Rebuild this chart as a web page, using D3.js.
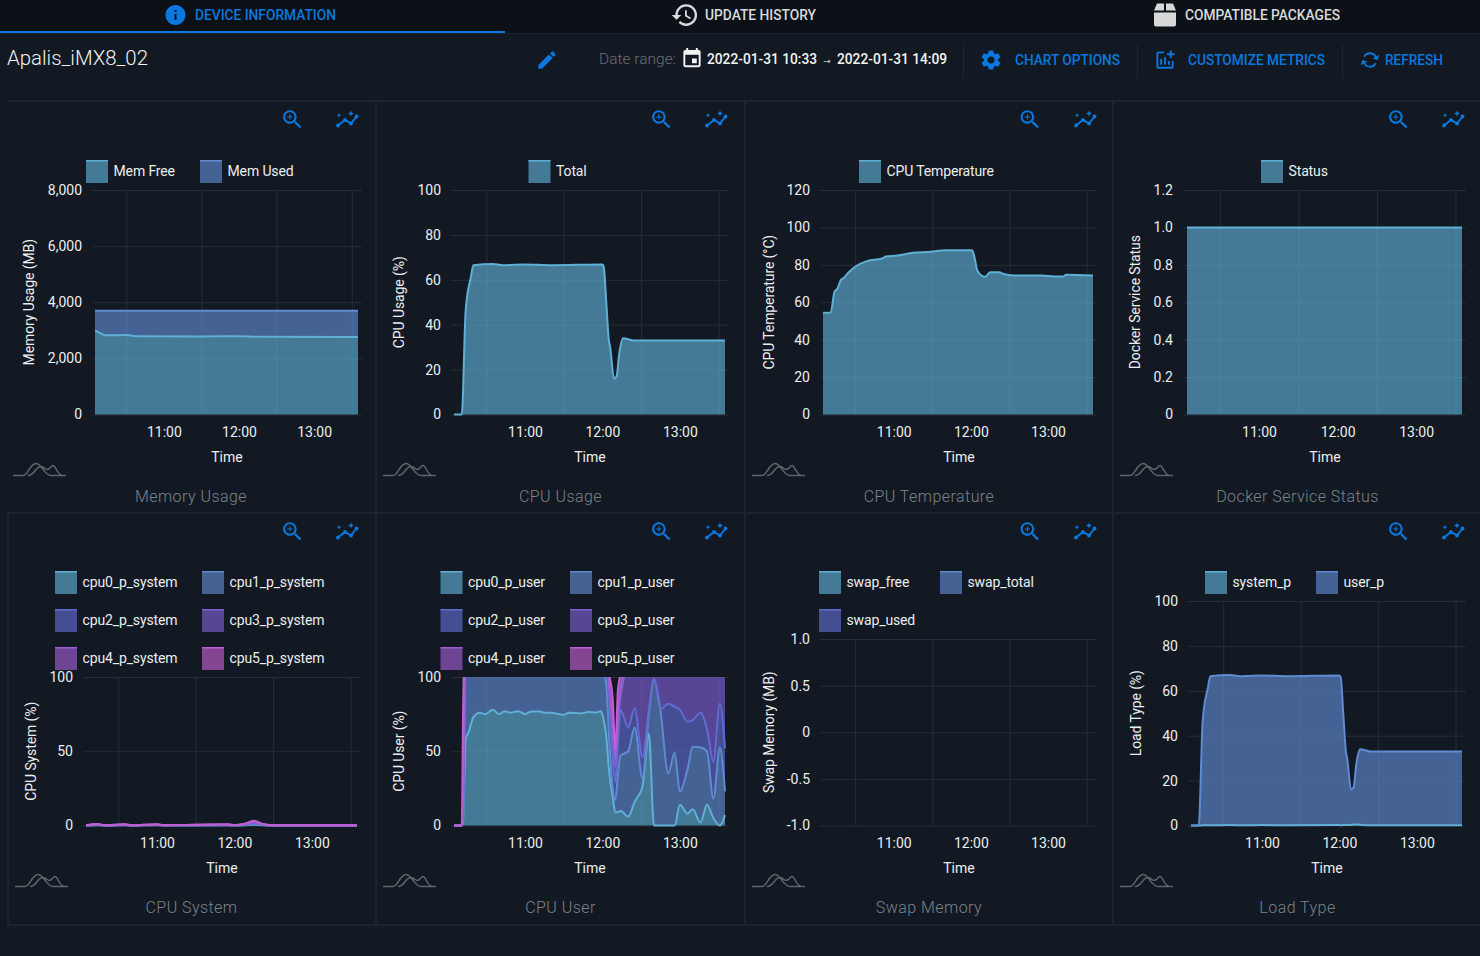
<!DOCTYPE html>
<html>
<head>
<meta charset="utf-8">
<script src="https://cdn.jsdelivr.net/npm/d3@7"></script>
<style>
html,body{margin:0;padding:0;background:#121922;overflow:hidden;}
svg{display:block;font-family:Roboto,sans-serif;}
.grid line{stroke:#262d36;stroke-width:1;}
.grid .domain{display:none;}
.axis .domain,.axis line{display:none;}
.axis text{fill:#eceef0;font-size:14px;font-family:Roboto,sans-serif;}
</style>
</head>
<body>
<script>
// ---- data ----
var hourTicks=["11:00","12:00","13:00"];
var gridTicks=["10:30","11:30","12:30","13:30"];

var memTimes=["10:05","10:08","10:14","10:30","10:40","11:30","12:00","12:15","13:35"];
var memFree=[3000,2930,2820,2830,2790,2780,2790,2770,2760];
var memUsed=[700,770,880,870,910,920,910,930,940];

var cpuTimes=["10:05","10:11","10:14","10:15","10:18","10:20","10:35","10:45","11:00","11:20","12:00","12:01","12:03","12:05","12:06","12:09","12:11","12:13","12:16","12:24","13:35"];
var cpuTotal=[0,0,46,52,61,66.5,67,66.5,66.8,66.5,66.8,66,50,33,30,16,17,27,34,33,33];

var tempTimes=["10:05","10:11","10:14","10:16","10:19","10:21","10:25","10:30","10:39","10:51","10:54","11:03","11:15","11:29","11:40","12:01","12:03","12:05","12:11","12:15","12:22","12:25","12:33","12:55","13:05","13:12","13:14","13:35"];
var tempCpu=[54.4,54.5,65.8,67,72,73,76,79,82,83.4,84.4,85,86.4,87,87.8,87.8,83.5,77,73.6,76,76,75.2,74.3,74.3,73.8,73.8,74.7,74.3];

var statusTimes=["10:05","13:35"];
var statusValues=[1,1];

var sysTimes=["10:05","10:14","10:20","10:35","10:40","11:00","11:05","11:55","12:00","12:08","12:15","12:22","12:30","13:35"];
var sys0=[.03,.2,.03,.15,.03,.15,.05,.1,.05,.2,.6,.2,.03,.02];
var sys1=[.03,.15,.03,.15,.03,.15,.05,.15,.05,.2,.4,.15,.03,.02];
var sys2=[.03,.15,.03,.15,.03,.15,.05,.15,.05,.2,.5,.15,.03,.02];
var sys3=[.03,.15,.03,.15,.03,.15,.05,.15,.05,.2,.5,.2,.03,.02];
var sys4=[.04,.15,.04,.15,.04,.15,.05,.15,.05,.2,.6,.15,.04,.01];
var sys5=[.04,.2,.04,.15,.04,.15,.05,.1,.05,.2,.6,.15,.04,.01];

var userTimes=["10:05","10:11","10:12","10:13","10:14","10:16","10:20","10:25","10:29","10:35","10:40","10:44","10:49","10:55","11:00","11:04","11:10","11:15","11:20","11:30","11:34","11:44","11:49","11:55","11:59","12:01","12:03","12:05","12:08","12:10","12:12","12:14","12:20","12:25","12:31","12:36","12:40","12:45","12:51","12:56","13:00","13:06","13:10","13:16","13:21","13:26","13:31","13:35"];
var user0=[0,0,3,30,58.6,62,73,76,75,78,75,77,76,77,75,76.6,77,76,76,74.5,76,75.5,76.5,76,77,71,60,38,19,9,9,10,6,16,26,62,0,0,0,0,14,8,11,2,14,5,0,7];
var user1=[0,0,3,30,50,50,33,33,33,33,33,33,33,33,33,33,33,33,33,33,33,33,33,33,33,32,35,24,6,8,25,37,44,50,6,13,98,77,35,49,9,30,42,50.6,36,13,52.6,16];
var user2=[0,0,3,10,10,10,10,10,10,10,10,10,10,10,10,10,10,10,10,10,10,10,10,10,10,10,10,28,20,12,21,31,16,13,14,3,1,1,47,31,55,32,18,23.4,15,25,29.4,29];
var user3=[0,0,3,10,10,8,8,8,8,8,8,8,8,8,8,8,8,8,8,8,8,8,8,8,8,8,10,3,15,10,14,8,40,30,60,30,10,30,25,26,30,45,35,32,42,62,25,55];
var user4=[0,0,3,10,10,8,8,8,8,8,8,8,8,8,8,8,8,8,8,8,8,8,8,8,8,8,8,4,10,6,10,6,8,8,8,8,8,8,8,8,8,8,8,8,8,8,8,8];
var user5=[0,0,60,40,10,8,8,8,8,8,8,8,8,8,8,8,8,8,8,8,8,8,8,8,8,8,8,8,15,6,12,10,8,8,8,8,8,8,8,8,8,8,8,8,8,8,8,8];

var loadTimes=["10:05","10:11","10:14","10:15","10:18","10:20","10:35","10:45","11:00","11:20","12:00","12:01","12:03","12:05","12:06","12:09","12:11","12:13","12:16","12:24","13:35"];
var loadSystem=[0,0,.1,.1,.1,.1,.2,.1,.2,.1,.2,.1,.2,.2,.2,.3,.4,.4,.3,.1,.1];
var loadUser=[0,0,46,52,60.9,66.4,66.8,66.4,66.6,66.4,66.6,65.9,49.8,32.8,29.8,15.7,16.6,26.6,33.7,32.9,32.9];

var coloursSeq=["#60afd6","#608bd1","#606cd1","#7e5ed1","#9e5ed1","#c15ed1"];

// ---- panel layout ----
var panels=[
 {title:"Memory Usage",yLabel:"Memory Usage (MB)",x0:95,x1:358,gx0:92,gx1:362,top:190,bot:414.5,lx:29,tx:227,cx:191,ix:13,zx:292.5,ax:347,
  dom:[0,8000],yt:[0,2000,4000,6000,8000],fmt:d3.format(","),times:memTimes,series:[memFree,memUsed],
  names:["Mem Free","Mem Used"],leg:[[86,160],[200,160]]},
 {title:"CPU Usage",yLabel:"CPU Usage (%)",x0:454,x1:725,gx0:451,gx1:729,top:190,bot:414.5,lx:399,tx:590,cx:560.5,ix:383,zx:661.5,ax:716,
  dom:[0,100],yt:[0,20,40,60,80,100],fmt:d3.format("d"),times:cpuTimes,series:[cpuTotal],
  names:["Total"],leg:[[528.5,160]]},
 {title:"CPU Temperature",yLabel:"CPU Temperature (°C)",x0:823,x1:1093,gx0:820,gx1:1097,top:190,bot:414.5,lx:769,tx:959,cx:929,ix:752,zx:1030,ax:1085,
  dom:[0,120],yt:[0,20,40,60,80,100,120],fmt:d3.format("d"),times:tempTimes,series:[tempCpu],
  names:["CPU Temperature"],leg:[[859,160]]},
 {title:"Docker Service Status",yLabel:"Docker Service Status",x0:1187,x1:1462,gx0:1183,gx1:1466,top:190,bot:414.5,lx:1135,tx:1325,cx:1297.5,ix:1120,zx:1398.5,ax:1453,
  dom:[0,1.2],yt:[0,.2,.4,.6,.8,1,1.2],fmt:function(d){return d==0?"0":d.toFixed(1);},times:statusTimes,series:[statusValues],
  names:["Status"],leg:[[1261,160]]},
 {title:"CPU System",yLabel:"CPU System (%)",x0:86,x1:357,gx0:83,gx1:361,top:677,bot:825.5,lx:31,tx:222,cx:191.5,ix:15,zx:292.5,ax:347,
  dom:[0,100],yt:[0,50,100],fmt:d3.format("d"),times:sysTimes,series:[sys0,sys1,sys2,sys3,sys4,sys5],
  names:["cpu0_p_system","cpu1_p_system","cpu2_p_system","cpu3_p_system","cpu4_p_system","cpu5_p_system"],
  leg:[[55,571],[202,571],[55,609],[202,609],[55,647],[202,647]]},
 {title:"CPU User",yLabel:"CPU User (%)",x0:454,x1:725,gx0:451,gx1:729,top:677,bot:825.5,lx:399,tx:590,cx:560.5,ix:383,zx:661.5,ax:716,
  dom:[0,100],yt:[0,50,100],fmt:d3.format("d"),times:userTimes,series:[user0,user1,user2,user3,user4,user5],
  names:["cpu0_p_user","cpu1_p_user","cpu2_p_user","cpu3_p_user","cpu4_p_user","cpu5_p_user"],
  leg:[[440.5,571],[570,571],[440.5,609],[570,609],[440.5,647],[570,647]]},
 {title:"Swap Memory",yLabel:"Swap Memory (MB)",x0:823,x1:1093,gx0:820,gx1:1097,top:639,bot:825.5,lx:769,tx:959,cx:929,ix:752,zx:1030,ax:1085,
  dom:[-1,1],yt:[-1,-.5,0,.5,1],fmt:function(d){return d==0?"0":d.toFixed(1);},times:[],series:[],
  names:["swap_free","swap_total","swap_used"],leg:[[819,571],[940,571],[819,609]]},
 {title:"Load Type",yLabel:"Load Type (%)",x0:1191,x1:1462,gx0:1188,gx1:1466,top:601,bot:825.5,lx:1136,tx:1327,cx:1297.5,ix:1120,zx:1398.5,ax:1453,
  dom:[0,100],yt:[0,20,40,60,80,100],fmt:d3.format("d"),times:loadTimes,series:[loadSystem,loadUser],
  names:["system_p","user_p"],leg:[[1205,571],[1316,571]]}
];

// material style icon paths, 24 box
var icons={
 info:"M12 2C6.48 2 2 6.48 2 12s4.48 10 10 10 10-4.48 10-10S17.52 2 12 2zm1 15h-2v-6h2v6zm0-8h-2V7h2v2z",
 history:"M13 3c-4.97 0-9 4.03-9 9H1l3.89 3.89.07.14L9 12H6c0-3.87 3.13-7 7-7s7 3.13 7 7-3.13 7-7 7c-1.93 0-3.68-.79-4.94-2.06l-1.42 1.42C8.27 19.99 10.51 21 13 21c4.97 0 9-4.03 9-9s-4.03-9-9-9zm-1 5v5l4.28 2.54.72-1.21-3.5-2.08V8H12z",
 box:"M1 10h22v12a2 2 0 0 1-2 2H3a2 2 0 0 1-2-2zM4 1h7v7H1zM13 1h7l3 7H13z",
 edit:"M3 17.25V21h3.75L17.81 9.94l-3.75-3.75L3 17.25zM20.71 7.04c.39-.39.39-1.02 0-1.41l-2.34-2.34c-.39-.39-1.02-.39-1.41 0l-1.83 1.83 3.75 3.75 1.83-1.83z",
 event:"M17 12h-5v5h5v-5zM16 1v2H8V1H6v2H5c-1.11 0-1.99.9-1.99 2L3 19c0 1.1.89 2 2 2h14c1.1 0 2-.9 2-2V5c0-1.1-.9-2-2-2h-1V1h-2zm3 18H5V8h14v11z",
 gear:"M19.14 12.94c.04-.3.06-.61.06-.94 0-.32-.02-.64-.07-.94l2.03-1.58c.18-.14.23-.41.12-.61l-1.92-3.32c-.12-.22-.37-.29-.59-.22l-2.39.96c-.5-.38-1.03-.7-1.62-.94l-.36-2.54c-.04-.24-.24-.41-.48-.41h-3.84c-.24 0-.43.17-.47.41l-.36 2.54c-.59.24-1.13.57-1.62.94l-2.39-.96c-.22-.08-.47 0-.59.22L2.74 8.87c-.12.21-.08.47.12.61l2.03 1.58c-.05.3-.09.63-.09.94s.02.64.07.94l-2.03 1.58c-.18.14-.23.41-.12.61l1.92 3.32c.12.22.37.29.59.22l2.39-.96c.5.38 1.03.7 1.62.94l.36 2.54c.05.24.24.41.48.41h3.84c.24 0 .44-.17.47-.41l.36-2.54c.59-.24 1.13-.56 1.62-.94l2.39.96c.22.08.47 0 .59-.22l1.92-3.32c.12-.22.07-.47-.12-.61l-2.01-1.58zM12 15.6c-1.98 0-3.6-1.62-3.6-3.6s1.62-3.6 3.6-3.6 3.6 1.62 3.6 3.6-1.62 3.6-3.6 3.6z",
 addChart:"M22 5v2h-3v3h-2V7h-3V5h3V2h2v3h3zm-3 14H5V5h6V3H5c-1.1 0-2 .9-2 2v14c0 1.1.9 2 2 2h14c1.1 0 2-.9 2-2v-6h-2v6zm-4-6v4h2v-4h-2zm-4 4h2V9h-2v8zm-2 0v-6H7v6h2z",
 refresh:"M12 6v3l4-4-4-4v3c-4.42 0-8 3.58-8 8 0 1.57.46 3.03 1.24 4.26L6.7 14.8c-.45-.83-.7-1.79-.7-2.8 0-3.31 2.69-6 6-6zm6.76 1.74L17.3 9.2c.44.84.7 1.79.7 2.8 0 3.31-2.69 6-6 6v-3l-4 4 4 4v-3c4.42 0 8-3.58 8-8 0-1.57-.46-3.03-1.24-4.26z",
 zoomIn:"M15.5 14h-.79l-.28-.27C15.41 12.59 16 11.11 16 9.5 16 5.91 13.09 3 9.5 3S3 5.91 3 9.5 5.91 16 9.5 16c1.61 0 3.09-.59 4.23-1.57l.27.28v.79l5 4.99L20.49 19l-4.99-5zm-6 0C7.01 14 5 11.99 5 9.5S7.01 5 9.5 5 14 7.01 14 9.5 11.99 14 9.5 14zM12 10h-2v2H9v-2H7V9h2V7h1v2h2v1z"
};

var blue="#0a78de", parseTime=function(s){ return d3.timeParse("%Y-%m-%d %H:%M")("2022-01-31 "+s); };
var xDomain=[parseTime("10:05"),parseTime("13:35")];

var svg=d3.select("body").append("svg").attr("width",1480).attr("height",956);
var defs=svg.append("defs");

function icon(name,cx,cy,size,col,rot){
    var s=size/24;
    svg.append("path").attr("d",icons[name]).attr("fill",col)
        .attr("transform","translate("+(cx-size/2)+","+(cy-size/2)+") scale("+s+")"+(rot?" rotate("+rot+" 12 12)":""));
}
function label(txt,x,y,size,col,len,weight,anchor){
    var t=svg.append("text").attr("x",x).attr("y",y).attr("dy","0.35em").text(txt)
        .attr("fill",col).style("font-size",size+"px").style("font-weight",weight||400).attr("text-anchor",anchor||"start");
    if(len) t.attr("textLength",len).attr("lengthAdjust","spacingAndGlyphs");
    return t;
}

// ---- header ----
svg.append("rect").attr("width",1480).attr("height",33).attr("fill","#0c1118");
svg.append("rect").attr("y",33).attr("width",1480).attr("height",1).attr("fill","#1d242d");
svg.append("rect").attr("y",31).attr("width",505).attr("height",2).attr("fill",blue);
icon("info",175.5,15,24,blue);
label("DEVICE INFORMATION",195,15,15,blue,141,500);
icon("history",685,15,29,"#d8dadc");
label("UPDATE HISTORY",705,15,15,"#d8dadc",111,500);
icon("box",1165,14.5,24,"#d8d8d8");
label("COMPATIBLE PACKAGES",1185,15,15,"#d8dadc",155,500);

label("Apalis_iMX8_02",7,58,20,"#f0f0f0",141,300);
icon("edit",547,60,23,blue);
label("Date range:",599,58.5,15,"#6a7077",77,300);
icon("event",692,58.5,23,"#f4f4f4");
label("2022-01-31 10:33",707,59,14,"#f4f4f4",110,500);
label("→",827,60.5,9,"#cfd2d5",null,400,"middle").style("font-family","DejaVu Sans");
label("2022-01-31 14:09",837,59,14,"#f4f4f4",110,500);
[963,1137,1342].forEach(function(x){
    svg.append("rect").attr("x",x).attr("y",43).attr("width",1).attr("height",36).attr("fill","#1f262f");
});
icon("gear",991,60,24,blue);
label("CHART OPTIONS",1015,60,15,blue,105,500);
icon("addChart",1165,60,23,blue);
label("CUSTOMIZE METRICS",1188,60,15,blue,137,500);
icon("refresh",1370,60,23,blue,60);
label("REFRESH",1385,60,15,blue,58,500);

// ---- panel borders ----
var rule="#1d242d";
svg.append("rect").attr("x",7).attr("y",100).attr("width",1473).attr("height",2).attr("fill",rule);
svg.append("rect").attr("x",7).attr("y",512).attr("width",1473).attr("height",2).attr("fill",rule);
svg.append("rect").attr("x",7).attr("y",924).attr("width",1473).attr("height",2).attr("fill",rule);
svg.append("rect").attr("x",7).attr("y",512).attr("width",2).attr("height",414).attr("fill",rule);
[376,745,1113].forEach(function(x){
    svg.append("rect").attr("x",x-1).attr("y",100).attr("width",2).attr("height",826).attr("fill",rule);
});

// ---- charts ----
function drawPanel(p,i){
    var rowBottom=p.top<500?415:826;
    var xScale=d3.scaleTime().domain(xDomain).range([p.x0,p.x1]);
    var yScale=d3.scaleLinear().domain(p.dom).range([p.bot,p.top]);
    var g=svg.append("g");

    // grid sits half an hour off the labels, as in the source chart
    g.append("g").attr("class","grid").attr("transform","translate(0,"+p.bot+")")
        .call(d3.axisBottom(xScale).tickValues(gridTicks.map(parseTime)).tickSize(p.top-p.bot).tickFormat(""));
    g.append("g").attr("class","grid").attr("transform","translate("+p.gx0+",0)")
        .call(d3.axisLeft(yScale).tickValues(p.yt).tickSize(p.gx0-p.gx1).tickFormat(""));

    // stacked areas
    if(p.series.length){
        var rows=p.times.map(function(t,k){
            var r={t:parseTime(t)};
            p.series.forEach(function(s,j){ r["s"+j]=s[k]; });
            return r;
        });
        var keys=p.series.map(function(s,j){ return "s"+j; });
        var layers=d3.stack().keys(keys)(rows);
        var area=d3.area().curve(d3.curveMonotoneX)
            .x(function(d){ return xScale(d.data.t); })
            .y0(function(d){ return yScale(d[0]); }).y1(function(d){ return yScale(d[1]); });
        var line=d3.line().curve(d3.curveMonotoneX)
            .x(function(d){ return xScale(d.data.t); }).y(function(d){ return yScale(d[1]); });
        var clipId="clip"+i;
        defs.append("clipPath").attr("id",clipId).append("rect")
            .attr("x",p.x0-1).attr("y",p.top).attr("width",p.x1-p.x0+2).attr("height",p.bot-p.top+2);
        var plot=g.append("g").attr("clip-path","url(#"+clipId+")");
        plot.selectAll(".band").data(layers).enter().append("path").attr("class","band")
            .attr("d",area).attr("fill",function(d,j){ return coloursSeq[j]; }).attr("fill-opacity",0.65);
        plot.selectAll(".edge").data(layers).enter().append("path").attr("class","edge")
            .attr("d",line).attr("fill","none").attr("stroke",function(d,j){ return coloursSeq[j]; }).attr("stroke-width",2);
    }

    // axes
    g.append("g").attr("class","axis").attr("transform","translate("+p.gx0+",0)")
        .call(d3.axisLeft(yScale).tickValues(p.yt).tickSize(0).tickPadding(10).tickFormat(p.fmt));
    g.append("g").attr("class","axis").attr("transform","translate(0,"+rowBottom+")")
        .call(d3.axisBottom(xScale).tickValues(hourTicks.map(parseTime)).tickSize(0).tickPadding(12).tickFormat(d3.timeFormat("%H:%M")));

    label("Time",p.tx,rowBottom+42,14,"#eceef0",null,400,"middle");
    svg.append("text").attr("transform","translate("+p.lx+","+((p.top+p.bot)/2)+") rotate(-90)")
        .attr("text-anchor","middle").attr("dy","0.35em").attr("fill","#eceef0").style("font-size","14px").style("letter-spacing","-0.1px").text(p.yLabel);
    label(p.title,p.cx,rowBottom+81,16,"#7d838a",null,300,"middle").style("letter-spacing","0.45px");

    // legend
    p.names.forEach(function(n,j){
        var l=p.leg[j];
        svg.append("rect").attr("x",l[0]).attr("y",l[1]).attr("width",22).attr("height",23)
            .attr("fill",coloursSeq[j]).attr("fill-opacity",0.65);
        svg.append("rect").attr("x",l[0]).attr("y",l[1]).attr("width",22).attr("height",1.5).attr("fill",coloursSeq[j]);
        label(n,l[0]+27.5,l[1]+11,14,"#eceef0").style("letter-spacing","-0.13px");
    });

    // little sparkline mark bottom left
    var iy=rowBottom+60;
    svg.append("path").attr("transform","translate("+p.ix+","+(iy-11.5)+")")
        .attr("d","M0 12H10C15 12 17 0 23 0C29 0 31 12 38 12H53M15 12C22 12 22 3 28 3C31 3 32 6 34 6C37 6 38 2 40 2C43 2 44 12 50 12")
        .attr("fill","none").attr("stroke","#5f656c").attr("stroke-width",1.5);

    // toolbar icons
    var ty=p.top<500?119.5:531.5;
    icon("zoomIn",p.zx,ty,25,blue);
    var a=svg.append("g").attr("transform","translate("+p.ax+","+ty+")");
    a.append("path").attr("d","M-9 6L-2 .5L4 4L9.5 -3").attr("fill","none").attr("stroke",blue).attr("stroke-width",2);
    a.append("path").attr("d","M-8 -6.5L-7.3 -5L-6 -4.3L-7.3 -3.6L-8 -2L-8.7 -3.6L-10 -4.3L-8.7 -5ZM4 -9L4.9 -7L7 -6L4.9 -5L4 -3L3.1 -5L1 -6L3.1 -7Z").attr("fill",blue);
    [[-9,6],[-2,.5],[4,4],[9.5,-3]].forEach(function(c){
        a.append("circle").attr("cx",c[0]).attr("cy",c[1]).attr("r",1.9).attr("fill",blue);
    });
}
panels.forEach(drawPanel);
</script>
</body>
</html>
